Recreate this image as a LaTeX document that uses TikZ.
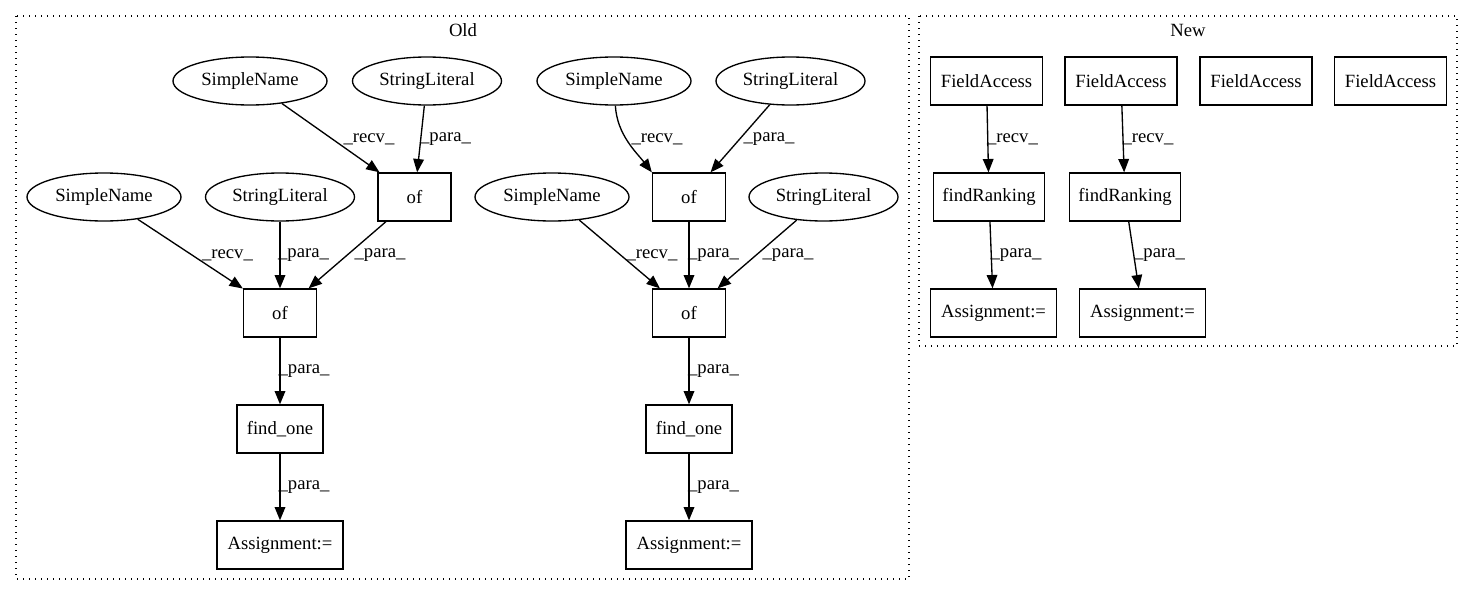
\documentclass[tikz,border=0pt]{standalone}
\usepackage{fontspec}
\setmainfont{Liberation Serif}
\usetikzlibrary{shapes.geometric,arrows.meta}

\begin{document}
\begin{tikzpicture}[x=0.75pt,y=-0.75pt,
  every node/.style={font=\fontsize{14}{16}\selectfont},
  box/.style={draw, line width=1pt, minimum height=36pt, inner sep=0pt},
  oval/.style={draw, ellipse, line width=1pt, minimum height=36pt, inner sep=0pt},
  edge/.style={line width=1pt, -{Triangle[length=10pt,width=8pt]}},
  lbl/.style={inner sep=0pt},
  cluster/.style={line width=1pt, dash pattern=on 1pt off 3.5pt}]
  \useasboundingbox (0,0) rectangle (1473,596);
  \draw[cluster] (16,16) rectangle (909,579);
  \node (old) at (463,30) {Old};
  \draw[cluster] (919,16) rectangle (1457,346);
  \node (new) at (1188,30) {New};

  \node[oval, minimum width=115.5pt] (sn1) at (250,81) {SimpleName};
  \node[oval, minimum width=111.75pt] (sl1) at (427,81) {StringLiteral};
  \node[box, minimum width=54.75pt] (of1) at (414.5,197) {of};
  \node[oval, minimum width=115.5pt] (sn2) at (104,197) {SimpleName};
  \node[oval, minimum width=111.75pt] (sl2) at (280,197) {StringLiteral};
  \node[box, minimum width=54.75pt] (of2) at (280,313) {of};
  \node[box, minimum width=64.5pt] (fo1) at (280,429) {find\_one};
  \node[box, minimum width=94.5pt] (as1) at (280,545) {Assignment:=};

  \node[oval, minimum width=115.5pt] (sn3) at (614,81) {SimpleName};
  \node[oval, minimum width=111.75pt] (sl3) at (790.5,81) {StringLiteral};
  \node[box, minimum width=54.75pt] (of3) at (689,197) {of};
  \node[oval, minimum width=115.5pt] (sn4) at (552,197) {SimpleName};
  \node[oval, minimum width=111.75pt] (sl4) at (823.5,197) {StringLiteral};
  \node[box, minimum width=54.75pt] (of4) at (689,313) {of};
  \node[box, minimum width=64.5pt] (fo2) at (689,429) {find\_one};
  \node[box, minimum width=94.5pt] (as2) at (689,545) {Assignment:=};

  \node[box, minimum width=84pt] (fa1) at (986.5,81) {FieldAccess};
  \node[box, minimum width=84pt] (fa2) at (1121,81) {FieldAccess};
  \node[box, minimum width=84pt] (fa3) at (1256,81) {FieldAccess};
  \node[box, minimum width=84pt] (fa4) at (1390.5,81) {FieldAccess};
  \node[box, minimum width=83pt] (fr1) at (989,197) {findRanking};
  \node[box, minimum width=83pt] (fr2) at (1125,197) {findRanking};
  \node[box, minimum width=94.5pt] (as3) at (993.5,313) {Assignment:=};
  \node[box, minimum width=94.5pt] (as4) at (1142.5,313) {Assignment:=};

  \draw[edge] (sn1) -- (of1) node[lbl] at (369,139) {\_recv\_};
  \draw[edge] (sl1) -- (of1) node[lbl] at (445.5,139) {\_para\_};
  \draw[edge] (sn2) -- (of2) node[lbl] at (227.5,255) {\_recv\_};
  \draw[edge] (sl2) -- (of2) node[lbl] at (303.5,255) {\_para\_};
  \draw[edge] (of1) -- (of2) node[lbl] at (380,255) {\_para\_};
  \draw[edge] (of2) -- (fo1) node[lbl] at (304,371) {\_para\_};
  \draw[edge] (fo1) -- (as1) node[lbl] at (304,487) {\_para\_};

  \draw[edge] (sn3) .. controls (617,135) and (637,153) .. (of3.north west) node[lbl] at (657,139) {\_recv\_};
  \draw[edge] (sl3) -- (of3) node[lbl] at (769,139) {\_para\_};
  \draw[edge] (sn4) -- (of4) node[lbl] at (652,255) {\_recv\_};
  \draw[edge] (of3) -- (of4) node[lbl] at (713.5,255) {\_para\_};
  \draw[edge] (sl4) -- (of4) node[lbl] at (788,255) {\_para\_};
  \draw[edge] (of4) -- (fo2) node[lbl] at (713.5,371) {\_para\_};
  \draw[edge] (fo2) -- (as2) node[lbl] at (713.5,487) {\_para\_};

  \draw[edge] (fa1) -- (fr1) node[lbl] at (1012.5,139) {\_recv\_};
  \draw[edge] (fr1) -- (as3) node[lbl] at (1016,255) {\_para\_};
  \draw[edge] (fa2) -- (fr2) node[lbl] at (1148,139) {\_recv\_};
  \draw[edge] (fr2) -- (as4) node[lbl] at (1159.5,255) {\_para\_};
\end{tikzpicture}
\end{document}
